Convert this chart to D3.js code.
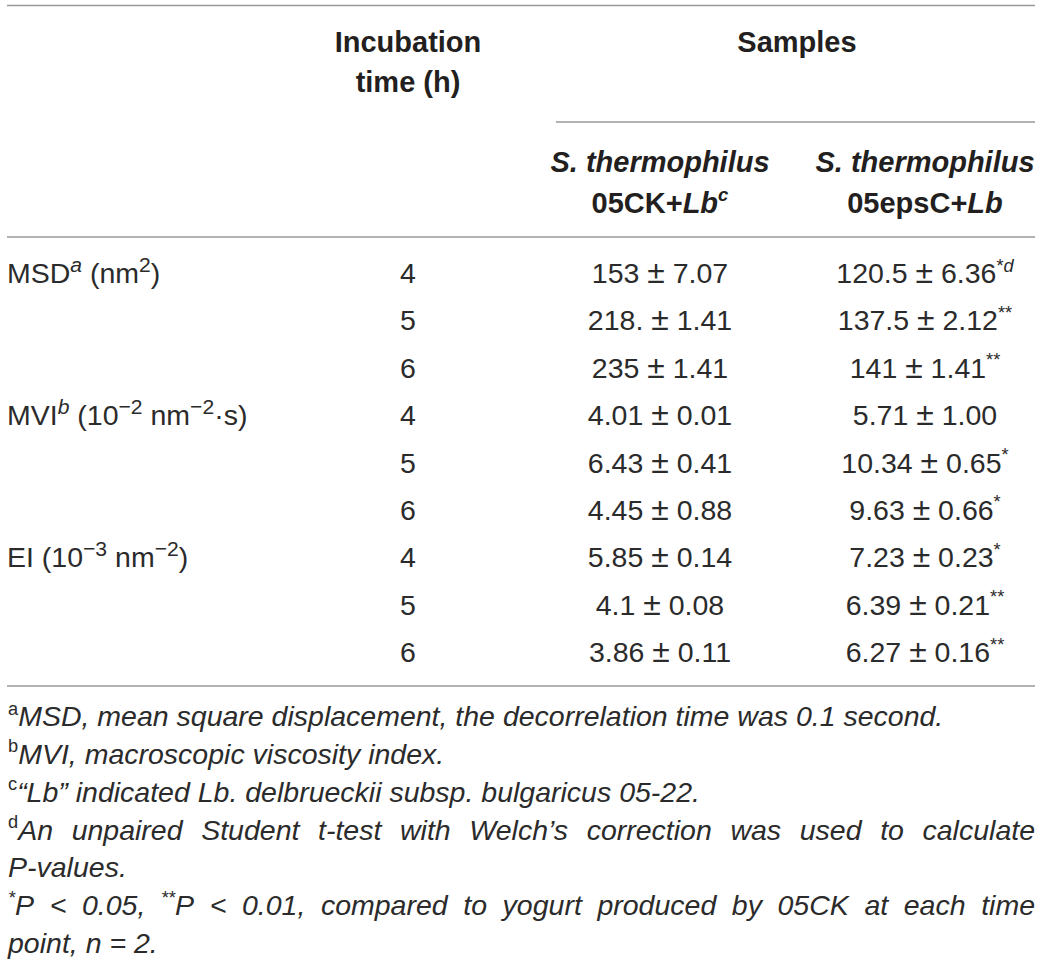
<!DOCTYPE html>
<html>
<head>
<meta charset="utf-8">
<script src="https://cdn.jsdelivr.net/npm/d3@7"></script>
<style>
  html, body { margin: 0; padding: 0; background: #fff; }
  svg { display: block; }
</style>
</head>
<body>
<div id="chart"></div>
<script>
// table values
const timePoints = [4, 5, 6, 4, 5, 6, 4, 5, 6]
const params = ["MSD", "MVI", "EI"]
const paramNotes = ["a", "b", ""]
const paramRows = [0, 3, 6]
const paramUnits = [
  [[" (nm"], ["2", "sup lg"], [")"]],
  [[" (10"], ["−2", "sup lg"], ["  nm"], ["−2", "sup lg"], ["·s)"]],
  [[" (10"], ["−3", "sup lg"], ["  nm"], ["−2", "sup lg"], [")"]]
]
const ckMean = ["153", "218.", "235", "4.01", "6.43", "4.45", "5.85", "4.1", "3.86"]
const ckSd = ["7.07", "1.41", "1.41", "0.01", "0.41", "0.88", "0.14", "0.08", "0.11"]
const epsMean = ["120.5", "137.5", "141", "5.71", "10.34", "9.63", "7.23", "6.39", "6.27"]
const epsSd = ["6.36", "2.12", "1.41", "1.00", "0.65", "0.66", "0.23", "0.21", "0.16"]
const epsSig = ["*", "**", "**", "", "*", "*", "*", "**", "**"]
const epsNote = ["d", "", "", "", "", "", "", "", ""]

const footMarks = ["a", "b", "c", "d", "", "", ""]
const footTexts = [
  "MSD, mean square displacement, the decorrelation time was 0.1 second.",
  "MVI, macroscopic viscosity index.",
  "“Lb” indicated Lb. delbrueckii subsp. bulgaricus 05-22.",
  "An unpaired Student t-test with Welch’s correction was used to calculate",
  "P-values.",
  "*P < 0.05, **P < 0.01, compared to yogurt produced by 05CK at each time",
  "point, n = 2."
]
const footJustify = [false, false, false, true, false, true, false]

const WIDTH = 1041
const HEIGHT = 961
const LEFT = 7
const RIGHT = 1035
const FONT = "'Liberation Sans', Arial, Helvetica, sans-serif"
const BODY = 28.5
const HEAD = 29
const FOOT = 28.5
const INK = "#231f20"
const RULE = "#999999"

const svg = d3.select("#chart")
  .append("svg")
    .attr("width", WIDTH)
    .attr("height", HEIGHT)
    .style("font-family", FONT)
    .attr("fill", INK)

// columns and rows
const x = d3.scaleOrdinal()
  .domain(["time", "ck", "eps"])
  .range([408, 660, 925])
const y = d3.scalePoint()
  .domain(d3.range(timePoints.length))
  .range([283, 662])
const yFoot = d3.scalePoint()
  .domain(d3.range(footTexts.length))
  .range([726, 953])

// parts: [text, kinds] where kinds is a space list of "sup", "lg", "it", "pm"
function rich(text, parts, fs) {
  let shift = 0
  parts.forEach(p => {
    const kind = (p[1] || "").split(" ")
    const sup = kind.includes("sup")
    const target = sup ? -fs * 0.4 : 0
    const ts = text.append("tspan")
      .attr("dy", target - shift)
      .text(p[0])
    shift = target
    if (sup) ts.attr("font-size", fs * (kind.includes("lg") ? 0.74 : 0.64))
    if (kind.includes("pm")) ts.attr("font-size", fs * 1.12)
    if (kind.includes("it")) ts.attr("font-style", "italic")
  })
  return text
}

// rules
const rules = [
  { x1: LEFT, x2: RIGHT, y: 5.5 },
  { x1: 556, x2: RIGHT, y: 122 },
  { x1: LEFT, x2: RIGHT, y: 237 },
  { x1: LEFT, x2: RIGHT, y: 686 }
]
svg.selectAll("line.rule")
  .data(rules)
  .enter().append("line")
    .attr("class", "rule")
    .attr("x1", d => d.x1)
    .attr("x2", d => d.x2)
    .attr("y1", d => d.y)
    .attr("y2", d => d.y)
    .attr("stroke", RULE)
    .attr("stroke-width", 1.6)

// header
const head = svg.append("g")
  .attr("font-weight", "bold")
  .attr("font-size", HEAD)
  .attr("text-anchor", "middle")

head.append("text").attr("x", x("time")).attr("y", 52).text("Incubation")
head.append("text").attr("x", x("time")).attr("y", 92).text("time (h)")
head.append("text").attr("x", 797).attr("y", 52).text("Samples")

const colHeads = [
  { col: "ck", parts: [["05CK+"], ["Lb", "it"], ["c", "it sup"]] },
  { col: "eps", parts: [["05epsC+"], ["Lb", "it"]] }
]
colHeads.forEach(h => {
  head.append("text")
    .attr("x", x(h.col)).attr("y", 172)
    .attr("font-style", "italic")
    .text("S. thermophilus")
  rich(head.append("text").attr("x", x(h.col)).attr("y", 213), h.parts, HEAD)
})

// body
const body = svg.append("g")
  .attr("font-size", BODY)
  .attr("fill", "#2b2b2b")
  .style("white-space", "pre")

params.forEach((p, i) => {
  const parts = [[p]]
  if (paramNotes[i]) parts.push([paramNotes[i], "it sup lg"])
  if (paramNotes[i]) parts.push([" "])
  rich(body.append("text").attr("x", LEFT).attr("y", y(paramRows[i])),
    parts.concat(paramUnits[i]), BODY)
})

body.selectAll("text.time")
  .data(timePoints)
  .enter().append("text")
    .attr("class", "time")
    .attr("x", x("time"))
    .attr("y", (d, i) => y(i))
    .attr("text-anchor", "middle")
    .text(d => d)

body.selectAll("text.ck")
  .data(ckMean)
  .enter().append("text")
    .attr("class", "ck")
    .attr("x", x("ck"))
    .attr("y", (d, i) => y(i))
    .attr("text-anchor", "middle")
    .each(function (d, i) {
      rich(d3.select(this), [[`${d} `], ["±", "pm"], [` ${ckSd[i]}`]], BODY)
    })

body.selectAll("text.eps")
  .data(epsMean)
  .enter().append("text")
    .attr("class", "eps")
    .attr("x", x("eps"))
    .attr("y", (d, i) => y(i))
    .attr("text-anchor", "middle")
    .each(function (d, i) {
      const parts = [[`${d} `], ["±", "pm"], [` ${epsSd[i]}`]]
      if (epsSig[i]) parts.push([epsSig[i], "sup"])
      if (epsNote[i]) parts.push([epsNote[i], "it sup"])
      rich(d3.select(this), parts, BODY)
    })

// footnotes
const foot = svg.append("g")
  .attr("font-size", FOOT)
  .attr("font-style", "italic")
  .attr("fill", "#2b2b2b")

function wordParts(w) {
  const m = w.match(/^(\*+)(.*)$/)
  if (m) return [[m[1], "sup"], [m[2]]]
  return [[w]]
}

footTexts.forEach((t, i) => {
  const yy = yFoot(i)
  const words = t.split(" ")
  if (!footJustify[i]) {
    const parts = []
    if (footMarks[i]) parts.push([footMarks[i], "sup"])
    parts.push([t])
    const txt = rich(foot.append("text").attr("x", LEFT + 1).attr("y", yy), parts, FOOT)
    if (footMarks[i]) txt.select("tspan").attr("font-style", "normal")
    return
  }
  const nodes = words.map((w, k) => {
    let parts = wordParts(w)
    if (k === 0 && footMarks[i]) parts = [[footMarks[i], "sup"]].concat(parts)
    const txt = rich(foot.append("text").attr("y", yy), parts, FOOT)
    if (k === 0 && footMarks[i]) txt.select("tspan").attr("font-style", "normal")
    return txt
  })
  const widths = nodes.map(n => n.node().getComputedTextLength())
  const gap = (RIGHT - (LEFT + 1) - d3.sum(widths)) / (words.length - 1)
  let cx = LEFT + 1
  nodes.forEach((n, k) => {
    n.attr("x", cx)
    cx += widths[k] + gap
  })
})
</script>
</body>
</html>
